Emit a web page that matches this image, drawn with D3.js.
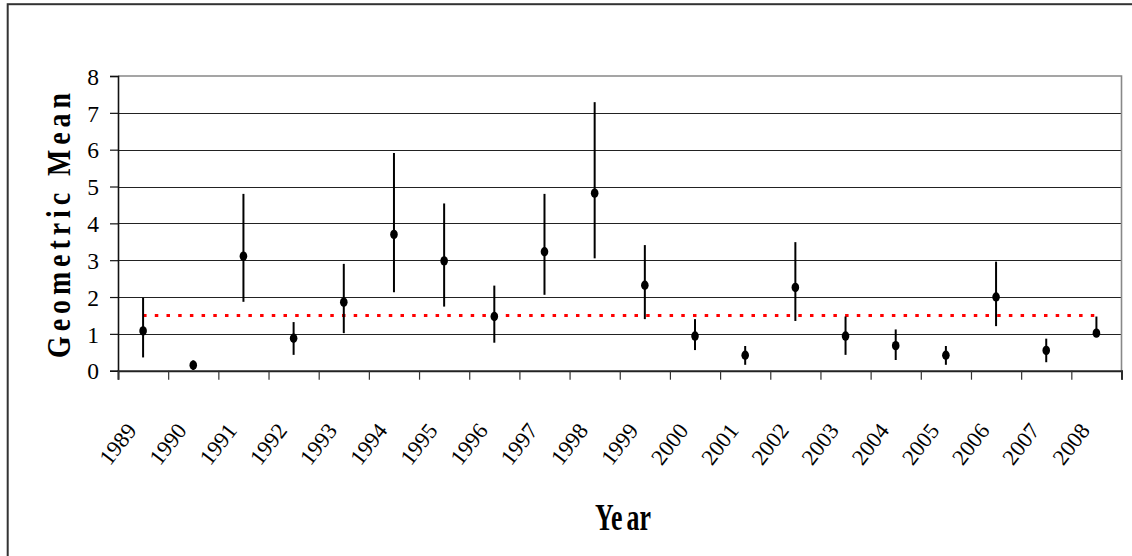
<!DOCTYPE html>
<html>
<head>
<meta charset="utf-8">
<script src="https://cdn.jsdelivr.net/npm/d3@7/dist/d3.min.js"></script>
<style>
  html, body { margin: 0; padding: 0; background: #fff; }
  svg { display: block; }
</style>
</head>
<body>
<svg id="chart" width="1132" height="556"></svg>
<script>
// Annual geometric means with their confidence limits
const years = ["1989","1990","1991","1992","1993","1994","1995","1996","1997","1998",
               "1999","2000","2001","2002","2003","2004","2005","2006","2007","2008"];
const geoMean = [1.08, 0.15, 3.11, 0.88, 1.86, 3.70, 2.98, 1.47, 3.23, 4.82,
                 2.32, 0.94, 0.42, 2.26, 0.94, 0.68, 0.42, 2.00, 0.55, 1.02];
const upperCI = [1.98, 0.28, 4.80, 1.32, 2.90, 5.91, 4.54, 2.31, 4.80, 7.29,
                 3.41, 1.40, 0.67, 3.49, 1.47, 1.12, 0.67, 2.96, 0.87, 1.47];
const lowerCI = [0.36, 0.02, 1.87, 0.43, 1.02, 2.13, 1.74, 0.76, 2.06, 3.05,
                 1.40, 0.56, 0.16, 1.35, 0.43, 0.29, 0.16, 1.21, 0.23, 0.95];
const referenceLevel = 1.5;
const yTicks = [0, 1, 2, 3, 4, 5, 6, 7, 8];

const fontFamily = '"Liberation Serif", "Times New Roman", Times, "Liberation Sans", Arial, sans-serif';
const svg = d3.select("#chart");
const plot = { left: 118, right: 1121.5, top: 76, bottom: 370.7 };

// outer frame
svg.append("rect")
  .attr("x", 7.7).attr("y", 4.2)
  .attr("width", 1140).attr("height", 570)
  .attr("fill", "none").attr("stroke", "#333").attr("stroke-width", 2);

const x = d3.scaleBand().domain(years).range([plot.left, plot.right]).padding(0);
const xEdges = d3.scaleLinear().domain([0, years.length]).range([plot.left, plot.right]);
const y = d3.scaleLinear().domain([0, 8]).range([plot.bottom, plot.top]);

// horizontal gridlines
svg.append("g").selectAll("line")
  .data(yTicks.filter(d => d > 0 && d < 8))
  .join("line")
  .attr("x1", plot.left).attr("x2", plot.right)
  .attr("y1", d => Math.round(y(d)) + 0.5).attr("y2", d => Math.round(y(d)) + 0.5)
  .attr("stroke", "#222").attr("stroke-width", 1.2);

// plot area top and right border
svg.append("path")
  .attr("d", `M${plot.left},${plot.top}H${plot.right}V${plot.bottom}`)
  .attr("fill", "none").attr("stroke", "#888").attr("stroke-width", 1.6);

// y axis
const yAxis = svg.append("g")
  .attr("transform", `translate(${plot.left},0)`)
  .call(d3.axisLeft(y).tickValues(yTicks).tickSize(8).tickPadding(11).tickFormat(d3.format("d")));
yAxis.select(".domain").attr("stroke", "#111").attr("stroke-width", 1.6);
yAxis.selectAll(".tick line").attr("stroke", "#111").attr("stroke-width", 1.2);
yAxis.selectAll(".tick text")
  .style("font-family", fontFamily).style("font-size", "23.5px")
  .attr("dy", "0.35em").attr("fill", "#000");

// x axis: tick marks on category boundaries
const xTickAxis = svg.append("g")
  .attr("transform", `translate(0,${plot.bottom})`)
  .call(d3.axisBottom(xEdges).tickValues(d3.range(years.length + 1)).tickSize(9).tickFormat(""));
xTickAxis.select(".domain").attr("stroke", "#222").attr("stroke-width", 2);
xTickAxis.selectAll(".tick line").attr("stroke", "#333").attr("stroke-width", 1.2);

// x axis: rotated year labels
const xLabelAxis = svg.append("g")
  .attr("transform", `translate(0,${plot.bottom})`)
  .call(d3.axisBottom(x).tickSize(0));
xLabelAxis.select(".domain").remove();
xLabelAxis.selectAll(".tick text")
  .style("font-family", fontFamily).style("font-size", "22.5px").attr("fill", "#000")
  .attr("text-anchor", "end")
  .attr("x", 0).attr("y", 0).attr("dy", 0)
  .attr("transform", "translate(-5.5,60.3) rotate(-52)");

// reference level
svg.append("line")
  .attr("x1", x(years[0]) + x.bandwidth() / 2)
  .attr("x2", x(years[years.length - 1]) + x.bandwidth() / 2)
  .attr("y1", y(referenceLevel)).attr("y2", y(referenceLevel))
  .attr("stroke", "#ff0000").attr("stroke-width", 3)
  .attr("stroke-dasharray", "3.5 8.2");

// confidence interval bars
const rows = years.map((yr, i) => ({ yr, m: geoMean[i], lo: lowerCI[i], hi: upperCI[i] }));
svg.append("g").selectAll("line")
  .data(rows)
  .join("line")
  .attr("x1", d => x(d.yr) + x.bandwidth() / 2)
  .attr("x2", d => x(d.yr) + x.bandwidth() / 2)
  .attr("y1", d => y(d.lo)).attr("y2", d => y(d.hi))
  .attr("stroke", "#000").attr("stroke-width", 2);

// geometric mean markers
svg.append("g").selectAll("ellipse")
  .data(rows)
  .join("ellipse")
  .attr("cx", d => x(d.yr) + x.bandwidth() / 2)
  .attr("cy", d => y(d.m))
  .attr("rx", 3.8).attr("ry", 4.7)
  .attr("fill", "#000");

// axis titles
svg.append("text")
  .attr("transform", "translate(70,225.5) rotate(-90) scale(0.82,1)")
  .attr("text-anchor", "middle")
  .style("font-family", fontFamily).style("font-weight", "bold").style("font-size", "34px")
  .attr("textLength", 323).attr("lengthAdjust", "spacing")
  .attr("fill", "#000")
  .text("Geometric Mean");

const xTitle = svg.append("text")
  .attr("transform", "translate(623,529.5) scale(0.69,1)")
  .attr("text-anchor", "middle")
  .style("font-family", fontFamily).style("font-weight", "bold").style("font-size", "37.5px")
  .attr("fill", "#000");
xTitle.append("tspan").text("Ye");
xTitle.append("tspan").attr("dx", 6).text("ar");
</script>
</body>
</html>
